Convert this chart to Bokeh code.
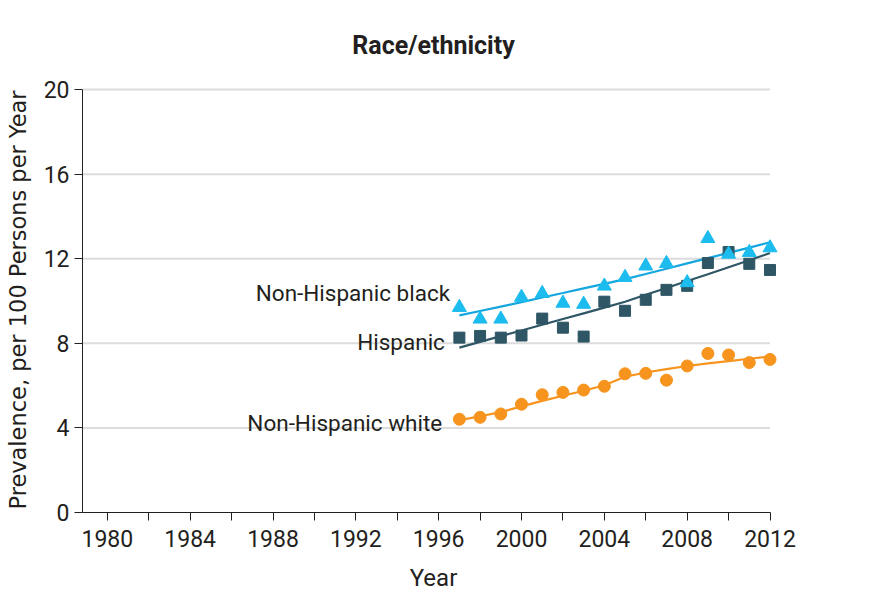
from bokeh.plotting import figure
from bokeh.models import Range1d, FixedTicker, Label, Title
from bokeh.embed import file_html
from bokeh.resources import INLINE

# ---- data ----
years = list(range(1997, 2013))
nh_black = [9.70, 9.15, 9.15, 10.18, 10.36, 9.90, 9.85, 10.71, 11.12, 11.66, 11.78, 10.87, 12.96, 12.22, 12.30, 12.52]
hispanic = [8.27, 8.35, 8.27, 8.37, 9.17, 8.74, 8.32, 9.97, 9.54, 10.06, 10.53, 10.72, 11.80, 12.32, 11.76, 11.47]
nh_white = [4.41, 4.50, 4.66, 5.12, 5.57, 5.68, 5.79, 5.97, 6.56, 6.58, 6.26, 6.93, 7.52, 7.45, 7.09, 7.24]

black_trend = [9.32, 9.53, 9.74, 9.95, 10.17, 10.38, 10.60, 10.81, 11.04, 11.28, 11.53, 11.78, 12.03, 12.28, 12.53, 12.78]
hisp_trend = [7.80, 8.07, 8.34, 8.61, 8.88, 9.15, 9.42, 9.69, 9.97, 10.30, 10.62, 10.95, 11.27, 11.60, 11.93, 12.27]
white_trend = [4.37, 4.55, 4.75, 5.02, 5.28, 5.52, 5.76, 6.02, 6.42, 6.62, 6.78, 6.93, 7.05, 7.16, 7.27, 7.38]

x_ticks = [1980, 1984, 1988, 1992, 1996, 2000, 2004, 2008, 2012]
x_minor = [1982, 1986, 1990, 1994, 1998, 2002, 2006, 2010]
y_ticks = [0, 4, 8, 12, 16, 20]
y_grid = [4, 8, 12, 16, 20]

series_labels = ["Non-Hispanic black", "Hispanic", "Non-Hispanic white"]
title_text = "Race/ethnicity"
x_label = "Year"
y_label = "Prevalence, per 100 Persons per Year"

# ---- styling ----
TXT = "#231f20"
CYAN = "#1cbcee"
BLUE_LINE = "#14a6df"
DARK = "#2e5665"
ORANGE = "#f7941e"
GRID = "#dcdcdc"
FONT = "Roboto"

X0, X1 = 1978.8, 2012.7

p = figure(width=860, height=594, output_backend="svg", toolbar_location=None,
           x_range=Range1d(X0, X1), y_range=Range1d(0, 20.1),
           min_border_left=82, min_border_right=76, min_border_top=86, min_border_bottom=80)
p.outline_line_color = None
p.xgrid.visible = False
p.ygrid.visible = False
p.background_fill_color = "white"
p.border_fill_color = "white"

# title
p.add_layout(Title(text=title_text, align="center", text_font=FONT, text_font_size="25px",
                   text_font_style="bold", text_color=TXT, standoff=56), "above")

# horizontal gridlines ending at the last year
p.segment(x0=[X0] * len(y_grid), y0=y_grid, x1=[x_ticks[-1]] * len(y_grid), y1=y_grid,
          line_color=GRID, line_width=2, level="underlay")

# axes
for ax in (p.xaxis[0], p.yaxis[0]):
    ax.axis_line_color = TXT
    ax.axis_line_width = 1
    ax.major_tick_line_color = TXT
    ax.major_tick_in = 0
    ax.major_tick_out = 8
    ax.minor_tick_in = 0
    ax.major_label_text_color = TXT
    ax.major_label_text_font = FONT
    ax.major_label_text_font_size = "23px"
    ax.axis_label_text_color = TXT
    ax.axis_label_text_font_style = "normal"

p.xaxis.ticker = FixedTicker(ticks=x_ticks, minor_ticks=x_minor)
p.xaxis.minor_tick_line_color = TXT
p.xaxis.minor_tick_out = 8
p.xaxis.bounds = (X0, x_ticks[-1])
p.xaxis.axis_label = x_label
p.xaxis.axis_label_text_font = FONT
p.xaxis.axis_label_text_font_size = "24px"
p.xaxis.major_label_standoff = 9
p.xaxis.axis_label_standoff = 14

p.yaxis.ticker = FixedTicker(ticks=y_ticks, minor_ticks=[])
p.yaxis.minor_tick_out = 0
p.yaxis.bounds = (0, 20)
p.yaxis.axis_label = y_label
p.yaxis.axis_label_text_font = "DejaVu Sans"
p.yaxis.axis_label_text_font_size = "22.5px"
p.yaxis.major_label_standoff = 5
p.yaxis.axis_label_standoff = 10

# trend lines
p.line(years, black_trend, line_color=BLUE_LINE, line_width=2.2)
p.line(years, hisp_trend, line_color=DARK, line_width=2.2)
p.line(years, white_trend, line_color=ORANGE, line_width=2.2)

# points
p.scatter(years, nh_white, marker="circle", size=12, fill_color=ORANGE, line_color=ORANGE)
p.scatter(years, hispanic, marker="square", size=11, fill_color=DARK, line_color=DARK)
p.scatter(years, nh_black, marker="triangle", size=14, fill_color=CYAN, line_color=CYAN)

# series labels
label_pos = [(1996.55, 10.38), (1996.3, 8.07), (1996.17, 4.23)]
for txt, (lx, ly) in zip(series_labels, label_pos):
    p.add_layout(Label(x=lx, y=ly, text=txt, text_align="right", text_baseline="middle",
                       text_font=FONT, text_font_size="22.5px", text_color=TXT))

open("out.html", "w").write(file_html(p, INLINE))
